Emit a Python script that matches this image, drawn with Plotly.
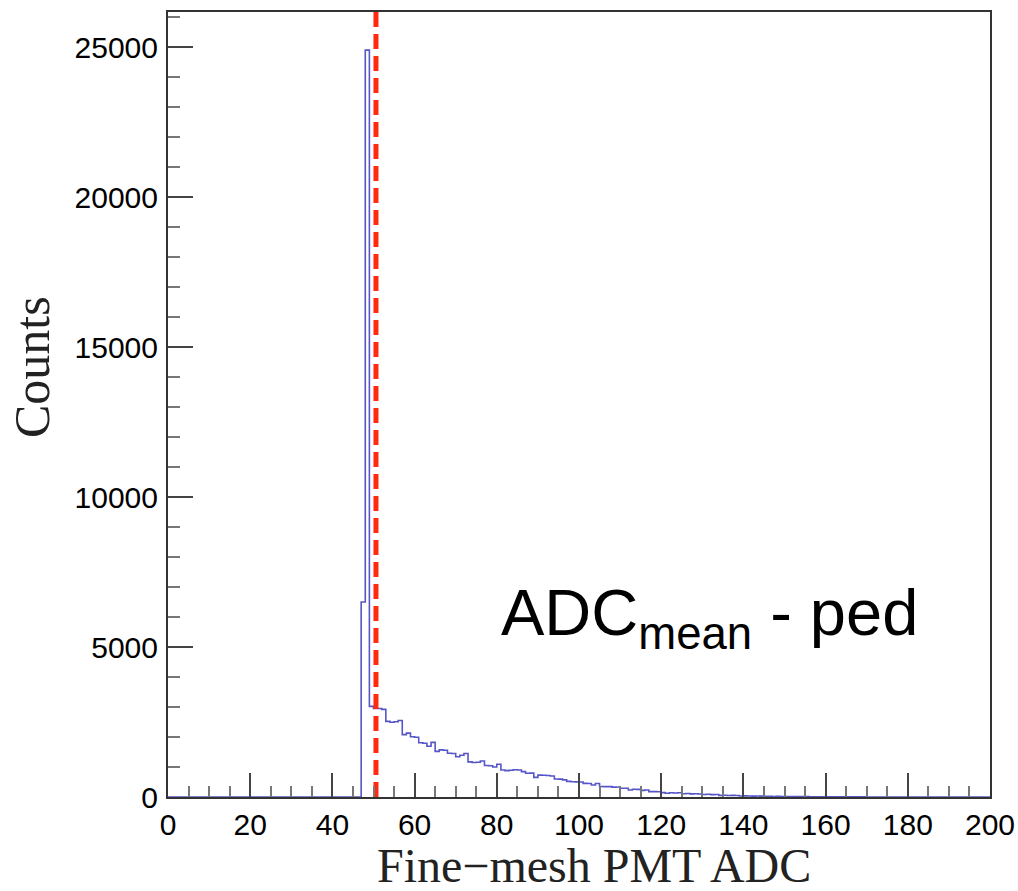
import plotly.graph_objects as go

# ---- data ----
bin_width = 1
first_bin = 47
counts = [
    6500, 24900, 3020, 2950, 2950, 2920, 2520, 2490, 2510, 2550,   # 47-56
    2080, 2130, 2010, 1990, 1810, 1790, 1690, 1820, 1520, 1570,    # 57-66
    1560, 1460, 1450, 1340, 1390, 1450, 1170, 1150, 1160, 1200,    # 67-76
    1050, 1040, 1000, 1090, 900, 880, 890, 910, 900, 845,          # 77-86
    790, 795, 655, 730, 725, 715, 700, 600, 595, 570,              # 87-96
    520, 510, 505, 500, 455, 450, 400, 450, 350, 345,              # 97-106
    345, 330, 335, 290, 290, 235, 260, 255, 220, 235,              # 107-116
    180, 180, 175, 145, 125, 140, 135, 140, 110, 115,              # 117-126
    105, 110, 100, 85, 90, 80, 85, 55, 60, 50,                     # 127-136
    55, 50, 35, 38, 32, 30, 35, 28, 25, 20,                        # 137-146
    18, 22, 17, 15, 18, 14, 12, 15, 11, 10,                        # 147-156
    8, 9, 7, 8, 6, 7, 5, 6, 4, 5,                                  # 157-166
    3, 4, 3, 2,                                                    # 167-170
]
bin_lows = [first_bin + i * bin_width for i in range(len(counts))]
x_min, x_max = 0, 200
y_max = 26170
ped_mean = 50.6  # ADC_mean - ped marker

x_title = "Fine−mesh PMT ADC"
y_title = "Counts"
label_text = "ADC<sub>mean</sub> - ped"

# ---- figure ----
hx = [x_min] + bin_lows + [bin_lows[-1] + bin_width, x_max]
hy = [0] + counts + [0, 0]

fig = go.Figure()
fig.add_trace(go.Scatter(
    x=hx, y=hy, mode="lines", line=dict(shape="hv", color="#5656c8", width=1.6),
    hoverinfo="skip", showlegend=False,
))
fig.add_trace(go.Scatter(
    x=[ped_mean, ped_mean], y=[y_max, 0], mode="lines",
    line=dict(color="#ff2a10", width=5, dash="15px,7px"),
    showlegend=False, hoverinfo="skip",
))

L, R, T, B = 168, 28, 12, 94
W, H = 1018, 891
pw, ph = W - L - R, H - T - B

def px_x(p):
    return (p - L) / pw

def px_y(p):
    return (H - B - p) / ph

fig.update_layout(
    width=W, height=H, autosize=False,
    margin=dict(l=L, r=R, t=T, b=B, pad=0),
    paper_bgcolor="white", plot_bgcolor="white",
    showlegend=False,
    font=dict(family="Liberation Sans", color="black"),
    xaxis=dict(
        range=[x_min, x_max], tickmode="linear", tick0=0, dtick=20,
        ticks="inside", ticklen=24, tickwidth=2, tickcolor="#444",
        minor=dict(ticks="inside", ticklen=11, tickwidth=2, tickcolor="#777", dtick=5),
        showline=True, linecolor="#333", linewidth=2, mirror=True,
        showgrid=False, zeroline=False, automargin=False,
        tickfont=dict(family="Liberation Sans", size=30, color="black"),
    ),
    yaxis=dict(
        range=[0, y_max], tickmode="linear", tick0=0, dtick=5000, tickformat="d",
        ticks="inside", ticklen=25, tickwidth=2, tickcolor="#444",
        minor=dict(ticks="inside", ticklen=12, tickwidth=2, tickcolor="#777", dtick=1000),
        showline=True, linecolor="#333", linewidth=2, mirror=True,
        showgrid=False, zeroline=False, automargin=False,
        tickfont=dict(family="Liberation Sans", size=30, color="black"),
        ticklabelstandoff=2,
    ),
    annotations=[
        dict(text=label_text, xref="paper", yref="paper", x=px_x(499), y=px_y(617),
             xanchor="left", yanchor="middle", showarrow=False,
             font=dict(family="Liberation Sans", size=65, color="black")),
        dict(text=x_title, xref="paper", yref="paper", x=px_x(594), y=px_y(865),
             xanchor="center", yanchor="middle", showarrow=False,
             font=dict(family="Liberation Serif", size=48, color="#222")),
        dict(text=y_title, xref="paper", yref="paper", x=px_x(32), y=px_y(367),
             xanchor="center", yanchor="middle", showarrow=False, textangle=-90,
             font=dict(family="Liberation Serif", size=50, color="#222")),
    ],
)

fig.write_html("out.html", config={"displayModeBar": False},
               post_script="document.body.style.margin='0';")
